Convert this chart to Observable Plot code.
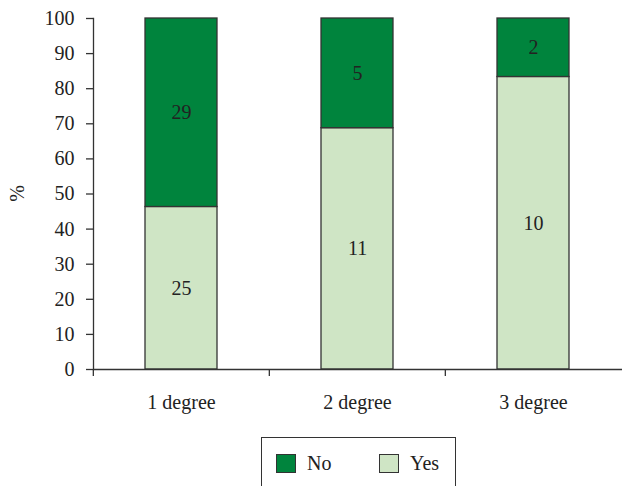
<!DOCTYPE html>
<html>
<head>
<meta charset="utf-8">
<script src="https://cdn.jsdelivr.net/npm/d3@7"></script>
<script src="https://cdn.jsdelivr.net/npm/@observablehq/plot@0.6"></script>
<style>
  body { margin: 0; background: #fff; font-family: "Liberation Serif", "DejaVu Serif", serif; }
  #chart { width: 622px; }
  #chart svg { display: block; }
  .legend { position: relative; margin-left: 261px; margin-top: 7px; width: 195px; height: 60px;
            border: 1.3px solid #333; border-bottom: none; box-sizing: border-box; }
  .item { position: absolute; top: 15px; display: flex; align-items: center; font-size: 20px; color: #222; line-height: 20px; }
  .sw { width: 20px; height: 19px; border: 1.3px solid #333; box-sizing: border-box; margin-right: 11px; }
</style>
</head>
<body>
<div id="chart"></div>
<script>
const categories = ["1 degree", "2 degree", "3 degree"];
const yesCounts = [25, 11, 10];
const noCounts = [29, 5, 2];
const seriesNames = ["Yes", "No"];
const colors = ["#cfe5c5", "#00843d"];
const yTicks = [0, 10, 20, 30, 40, 50, 60, 70, 80, 90, 100];

const rows = [];
categories.forEach((c, i) => {
  const total = yesCounts[i] + noCounts[i];
  rows.push({cat: c, answer: "Yes", count: yesCounts[i], pct: yesCounts[i] / total * 100});
  rows.push({cat: c, answer: "No", count: noCounts[i], pct: noCounts[i] / total * 100});
});

const W = 622, H = 430, ML = 93, MR = 0, MT = 18, MB = 61;
const step = (W - ML - MR) / categories.length;

const plot = Plot.plot({
  width: W, height: H,
  marginLeft: ML, marginRight: MR, marginTop: MT, marginBottom: MB,
  style: {fontFamily: "Liberation Serif, DejaVu Serif, serif", fontSize: "20px", color: "#222", background: "#fff"},
  x: {domain: categories, paddingInner: 0.59, paddingOuter: 0.295, label: null},
  y: {domain: [0, 100], label: null},
  color: {domain: seriesNames, range: colors},
  marks: [
    Plot.barY(rows, Plot.stackY({x: "cat", y: "pct", fill: "answer", z: "answer", stroke: "#333", strokeWidth: 1.3, order: seriesNames})),
    Plot.text(rows, Plot.stackY({x: "cat", y: "pct", z: "answer", text: "count", order: seriesNames, fontSize: 20, fill: "#222"})),
    Plot.axisY({ticks: yTicks, tickSize: 7, tickPadding: 12, fontSize: 20, stroke: "#333", strokeWidth: 1.3, label: null}),
    Plot.frame({anchor: "left", stroke: "#333", strokeWidth: 1.3}),
    Plot.ruleY([0], {stroke: "#333", strokeWidth: 1.3}),
    Plot.axisX({tickSize: 7, dx: -step / 2, tickFormat: () => "", stroke: "#333", strokeWidth: 1.3, label: null}),
    Plot.axisX({tickSize: 0, tickPadding: 25, fontSize: 20, label: null})
  ]
});

const chart = document.getElementById("chart");
chart.appendChild(plot);

// rotated y label
const svg = d3.select(plot);
svg.append("text")
  .attr("transform", `translate(24,${MT + (H - MT - MB) / 2}) rotate(-90)`)
  .attr("text-anchor", "middle")
  .attr("font-size", 20)
  .attr("fill", "#222")
  .text("%");

// legend
const legend = document.createElement("div");
legend.className = "legend";
const legendItems = [["No", colors[1], 14], ["Yes", colors[0], 117]];
legendItems.forEach(([name, col, left]) => {
  const it = document.createElement("div");
  it.className = "item";
  it.style.left = left + "px";
  const sw = document.createElement("div");
  sw.className = "sw";
  sw.style.background = col;
  it.appendChild(sw);
  const t = document.createElement("span");
  t.textContent = name;
  it.appendChild(t);
  legend.appendChild(it);
});
chart.appendChild(legend);
</script>
</body>
</html>
